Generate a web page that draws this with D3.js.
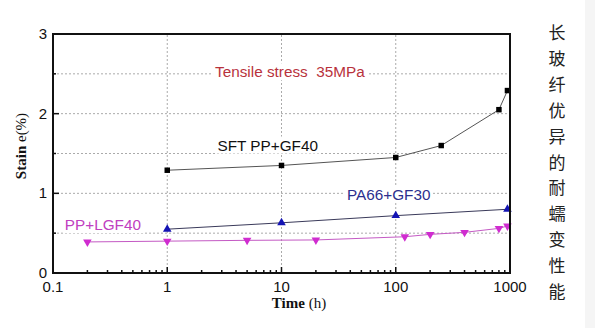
<!DOCTYPE html>
<html>
<head>
    <meta charset="utf-8">
    <title></title>
    <style>
        body {
            margin: 0;
            background: #fff;
        }
        .tick-label {
            font-family: Arial, "Liberation Sans", sans-serif;
            font-size: 15px;
            fill: #111;
        }
        .note {
            font-family: Arial, "Liberation Sans", sans-serif;
            font-size: 15.3px;
        }
        .grid {
            stroke: #aaa;
            stroke-width: 1px;
            stroke-dasharray: 2, 2;
        }
        .axis-title {
            font-family: "Liberation Serif", "Times New Roman", serif;
            font-size: 15px;
            fill: #111;
        }
    </style>
</head>
<body>
<script src="https://d3js.org/d3.v7.min.js"></script>
<script>
    var width = 595;
    var height = 328;

    // series: time (h) and strain (%)
    var sftTime = [1, 10, 100, 250, 800, 950];
    var sftStrain = [1.29, 1.35, 1.45, 1.60, 2.05, 2.29];

    var paTime = [1, 10, 100, 950];
    var paStrain = [0.55, 0.63, 0.72, 0.80];

    var lgfTime = [0.2, 1, 5, 20, 120, 200, 400, 800, 950];
    var lgfStrain = [0.39, 0.40, 0.41, 0.415, 0.455, 0.485, 0.51, 0.56, 0.59];

    var xTicks = [0.1, 1, 10, 100, 1000];
    var xTickLabels = ["0.1", "1", "10", "100", "1000"];
    var yTicks = [0, 1, 2, 3];
    var yTickLabels = ["0", "1", "2", "3"];
    var yMinor = [0.5, 1.5, 2.5];
    var xGrid = [1, 10, 100];

    var noteText = ["Tensile stress  35MPa", "SFT PP+GF40", "PA66+GF30", "PP+LGF40"];
    var noteTime = [2.62, 2.75, 37.4, 0.127];
    var noteStrain = [2.52, 1.6, 0.98, 0.6];
    var noteColor = ["#b8323c", "#111", "#2c2f8e", "#c040c0"];

    var sideText = "长玻纤优异的耐蠕变性能".split("");

    var x = d3.scaleLog().domain([0.1, 1000]).range([53, 510]);
    var y = d3.scaleLinear().domain([0, 3]).range([273, 34]);

    var svg = d3.select("body").append("svg")
            .attr("width", width)
            .attr("height", height);

    // faint band at the right edge
    svg.append("rect")
            .attr("x", 585).attr("y", 0)
            .attr("width", 10).attr("height", height)
            .attr("fill", "#f5f5f5");

    // grid
    svg.selectAll(".gy").data(yMinor.concat([1, 2])).enter().append("line")
            .attr("class", "grid")
            .attr("x1", x(0.1)).attr("x2", x(1000))
            .attr("y1", function(d) {return y(d);})
            .attr("y2", function(d) {return y(d);});
    svg.selectAll(".gx").data(xGrid).enter().append("line")
            .attr("class", "grid")
            .attr("y1", y(0)).attr("y2", y(3))
            .attr("x1", function(d) {return x(d);})
            .attr("x2", function(d) {return x(d);});

    // notes with white backing so the grid breaks behind them
    var notes = svg.selectAll(".note-g").data(noteText).enter().append("g");
    notes.append("rect").attr("fill", "#fff");
    notes.append("text")
            .attr("class", "note")
            .attr("x", function(d, i) {return x(noteTime[i]);})
            .attr("y", function(d, i) {return y(noteStrain[i]) + 5;})
            .attr("fill", function(d, i) {return noteColor[i];})
            .style("white-space", "pre")
            .text(function(d) {return d;});
    notes.each(function() {
        var g = d3.select(this);
        var b = g.select("text").node().getBBox();
        g.select("rect")
                .attr("x", b.x - 2).attr("y", b.y)
                .attr("width", b.width + 4).attr("height", b.height);
    });

    // series
    function series(time, strain, lineColor, markColor, shape, size) {
        var pts = time.map(function(t, i) {return [x(t), y(strain[i])];});
        svg.append("path")
                .attr("d", d3.line()(pts))
                .attr("fill", "none")
                .attr("stroke", lineColor)
                .attr("stroke-width", 1);
        svg.selectAll(null).data(pts).enter().append("path")
                .attr("transform", function(d) {return "translate(" + d + ")" + (shape === "down" ? "rotate(180)" : "");})
                .attr("d", d3.symbol().type(shape === "square" ? d3.symbolSquare : d3.symbolTriangle).size(size))
                .attr("fill", markColor);
    }
    series(sftTime, sftStrain, "#555", "#000", "square", 30);
    series(paTime, paStrain, "#3a3a5a", "#1414b4", "up", 32);
    series(lgfTime, lgfStrain, "#c45ac4", "#d02cd0", "down", 32);

    // frame
    svg.append("rect")
            .attr("x", x(0.1)).attr("y", y(3))
            .attr("width", x(1000) - x(0.1)).attr("height", y(0) - y(3))
            .attr("fill", "none").attr("stroke", "#111").attr("stroke-width", 2);

    // x ticks (inward), with minor decades
    var xMinor = [];
    [0.1, 1, 10, 100].forEach(function(d) {
        for (var k = 2; k <= 9; k++) xMinor.push(d * k);
    });
    svg.selectAll(".xminor").data(xMinor).enter().append("line")
            .attr("x1", function(d) {return x(d);}).attr("x2", function(d) {return x(d);})
            .attr("y1", y(0)).attr("y2", y(0) - 3)
            .attr("stroke", "#111").attr("stroke-width", 1.5);
    svg.selectAll(".xmajor").data(xTicks).enter().append("line")
            .attr("x1", function(d) {return x(d);}).attr("x2", function(d) {return x(d);})
            .attr("y1", y(0)).attr("y2", y(0) - 6)
            .attr("stroke", "#111").attr("stroke-width", 1.5);
    svg.selectAll(".xlab").data(xTicks).enter().append("text")
            .attr("class", "tick-label")
            .attr("x", function(d) {return x(d);})
            .attr("y", 292)
            .attr("text-anchor", "middle")
            .text(function(d, i) {return xTickLabels[i];});

    // y ticks
    svg.selectAll(".ymajor").data(yTicks).enter().append("line")
            .attr("x1", x(0.1)).attr("x2", x(0.1) + 6)
            .attr("y1", function(d) {return y(d);}).attr("y2", function(d) {return y(d);})
            .attr("stroke", "#111").attr("stroke-width", 1.5);
    svg.selectAll(".yminor").data(yMinor).enter().append("line")
            .attr("x1", x(0.1)).attr("x2", x(0.1) + 3)
            .attr("y1", function(d) {return y(d);}).attr("y2", function(d) {return y(d);})
            .attr("stroke", "#111").attr("stroke-width", 1.5);
    svg.selectAll(".ylab").data(yTicks).enter().append("text")
            .attr("class", "tick-label")
            .attr("x", 47)
            .attr("y", function(d) {return y(d) + 5;})
            .attr("text-anchor", "end")
            .text(function(d, i) {return yTickLabels[i];});

    // axis titles
    var xt = svg.append("text").attr("class", "axis-title")
            .attr("x", 299).attr("y", 308).attr("text-anchor", "middle");
    xt.append("tspan").attr("font-weight", "bold").text("Time");
    xt.append("tspan").text(" (h)");

    var yt = svg.append("text").attr("class", "axis-title")
            .attr("transform", "translate(26,146)rotate(-90)")
            .attr("text-anchor", "middle");
    yt.append("tspan").attr("font-weight", "bold").text("Stain");
    yt.append("tspan").text(" e(%)");

    // vertical caption on the right
    svg.selectAll(".side").data(sideText).enter().append("text")
            .attr("x", 557)
            .attr("y", function(d, i) {return 33 + i * 25.9 + 6;})
            .attr("text-anchor", "middle")
            .attr("font-family", "'Noto Sans CJK SC', sans-serif")
            .attr("font-size", 17)
            .attr("fill", "#222")
            .text(function(d) {return d;});
</script>
</body>
</html>
